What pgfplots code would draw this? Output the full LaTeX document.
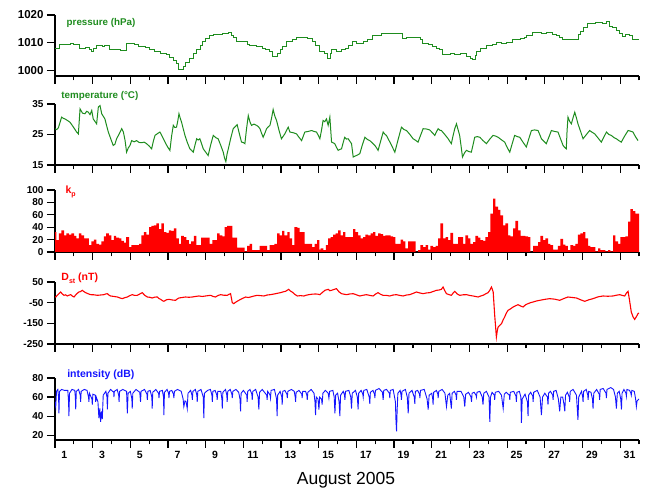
\documentclass[border=0pt]{standalone}
\usepackage{fontspec}
\setmainfont{Liberation Sans}
\usepackage{pgfplots}
\pgfplotsset{compat=1.18}
\definecolor{pgreen}{RGB}{30,140,30}
\definecolor{pred}{RGB}{255,0,0}
\definecolor{pblue}{RGB}{20,20,255}
\pgfplotsset{
 panel/.style={
  scale only axis, width=584pt,
  xmin=1, xmax=32,
  axis x line*=bottom, axis y line*=left,
  axis line style={-, line width=1.2pt, black},
  xtick={1,3,...,31}, minor xtick={2,4,...,32},
  xticklabels={},
  tick align=outside,
  major tick length=8pt, minor tick length=4.5pt,
  tick style={black, line width=1.2pt},
  y tick label style={font=\bfseries\fontsize{10}{10}\selectfont},
  /pgf/number format/assume math mode=true,
  /pgf/number format/1000 sep={},
  anchor=south west,
  clip mode=individual,
 }
}
\begin{document}
\begin{tikzpicture}[x=1pt,y=1pt]
\useasboundingbox (0,0) rectangle (646,492);

% ---------- pressure ----------
\begin{axis}[panel, at={(55pt,416pt)}, height=61pt,
  ymin=998, ymax=1020, ytick={1000,1010,1020},
  y tick label style={font=\bfseries\fontsize{11.5}{11.5}\selectfont}]
\addplot[const plot, pgreen, line width=1pt] coordinates {
(1.00,1008) (1.25,1009.5) (1.6,1009.3) (1.8,1009.6) (2.0,1009.2) (2.3,1008) (2.6,1008.3) (2.85,1007.5) (2.95,1006.8) (3.05,1008) (3.2,1009) (3.5,1008.6) (3.65,1009) (3.9,1007.4) (4.3,1007.6) (4.5,1007.2) (4.8,1009.8) (5.2,1009.5) (5.45,1008.6) (5.8,1008.2) (6.0,1007.5) (6.3,1007) (6.6,1006) (6.9,1005.6) (7.1,1004.8) (7.3,1003.5) (7.45,1002.5) (7.55,1000.5) (7.65,1000.2) (7.8,1001.4) (7.95,1003) (8.15,1004.4) (8.35,1006) (8.5,1007.4) (8.7,1009) (8.85,1010.4) (9.0,1011.4) (9.2,1012.7) (9.4,1013) (9.9,1013.3) (10.2,1013.7) (10.35,1012.6) (10.5,1012) (10.65,1010.4) (11.2,1009.5) (11.35,1009) (11.7,1008.5) (12.0,1008) (12.2,1007.4) (12.4,1006.8) (12.55,1005) (12.8,1006) (12.95,1007.4) (13.1,1008.5) (13.3,1010.4) (13.6,1011) (13.84,1011.8) (14.1,1012) (14.42,1011.5) (14.65,1010.4) (14.85,1009) (15.05,1007) (15.3,1006) (15.45,1004.4) (15.6,1006) (15.7,1007.6) (15.95,1007) (16.2,1007.6) (16.4,1008) (16.6,1009) (16.8,1010.4) (17.0,1009.8) (17.35,1010.4) (17.6,1011) (17.87,1012.5) (18.1,1012.7) (18.35,1013.3) (18.7,1013.5) (19.0,1013.2) (19.3,1013.3) (19.45,1011.5) (19.65,1012) (20.4,1011) (20.52,1009.8) (20.8,1009.2) (21.05,1008.6) (21.25,1008) (21.42,1007.4) (21.58,1005.8) (22.0,1006) (22.2,1005.7) (22.5,1006) (22.86,1005.2) (23.05,1004.2) (23.15,1004) (23.3,1005.5) (23.4,1006.8) (23.6,1007.8) (23.9,1009) (24.2,1009.5) (24.45,1010) (24.7,1009.6) (24.98,1010) (25.3,1011) (25.7,1011.5) (25.9,1012) (26.04,1012.7) (26.36,1013.6) (26.8,1013.3) (27.1,1013.6) (27.42,1013) (27.63,1012.7) (27.8,1011.8) (27.95,1011) (28.3,1011.2) (28.7,1011) (28.8,1012.8) (28.9,1014) (29.05,1015.5) (29.28,1017.1) (29.7,1017.2) (30.07,1016.8) (30.28,1017.5) (30.44,1016) (30.6,1015.5) (30.81,1014.5) (30.95,1013.4) (31.13,1012.1) (31.3,1012.9) (31.5,1012.5) (31.66,1011.2) (32.0,1011.2)
};
\node[anchor=west, text=pgreen, font=\bfseries\fontsize{9.8}{12}\selectfont] at (rel axis cs:0.014,0.87) {pressure (hPa)};
\end{axis}

% ---------- temperature ----------
\begin{axis}[panel, at={(55pt,327pt)}, height=61pt,
  ymin=15, ymax=35, ytick={15,25,35}]
\addplot[pgreen, line width=1pt] coordinates {
(1.00,26.9) (1.09,26.6) (1.18,27.2) (1.27,29.0) (1.35,30.7) (1.44,30.3) (1.53,30.1) (1.66,29.6) (1.80,29.0) (1.98,27.4) (2.15,25.8) (2.24,25.2) (2.33,33.4) (2.46,32.0) (2.59,31.8) (2.68,32.6) (2.77,32.3) (2.86,31.5) (2.95,32.9) (3.03,30.1) (3.12,29.3) (3.21,28.5) (3.30,34.0) (3.39,34.5) (3.48,31.8) (3.56,31.0) (3.65,30.1) (3.74,27.9) (3.83,25.8) (3.96,23.6) (4.09,21.4) (4.18,21.8) (4.27,23.6) (4.40,25.1) (4.54,26.9) (4.63,25.8) (4.72,23.0) (4.80,19.2) (4.89,20.6) (4.98,21.4) (5.07,23.0) (5.20,22.6) (5.33,23.0) (5.46,22.4) (5.60,22.3) (5.73,22.5) (5.86,22.0) (6.00,21.2) (6.13,20.3) (6.22,22.8) (6.31,24.7) (6.44,25.3) (6.57,25.8) (6.70,24.3) (6.84,22.5) (6.97,21.0) (7.10,19.8) (7.19,24.5) (7.28,28.0) (7.36,27.3) (7.45,27.4) (7.52,29.5) (7.58,31.8) (7.65,30.3) (7.72,29.0) (7.81,26.8) (7.90,24.7) (8.03,22.3) (8.16,20.3) (8.25,19.8) (8.34,19.2) (8.43,21.5) (8.52,23.6) (8.60,23.2) (8.69,23.6) (8.78,22.0) (8.87,20.3) (9.00,19.2) (9.13,18.1) (9.26,21.5) (9.40,24.7) (9.53,24.0) (9.66,23.6) (9.80,21.4) (9.93,19.2) (10.00,17.3) (10.07,16.1) (10.13,18.5) (10.20,20.3) (10.33,23.8) (10.46,26.9) (10.57,27.6) (10.67,28.2) (10.78,25.4) (10.90,22.5) (10.99,22.4) (11.08,22.0) (11.17,27.0) (11.26,31.2) (11.35,29.1) (11.43,28.0) (11.56,28.4) (11.70,28.0) (11.79,27.6) (11.88,26.9) (11.96,25.5) (12.05,24.1) (12.14,25.4) (12.23,26.9) (12.32,27.5) (12.41,28.0) (12.50,30.5) (12.58,33.2) (12.67,31.0) (12.76,29.6) (12.89,26.4) (13.02,23.6) (13.11,24.4) (13.20,25.2) (13.29,26.3) (13.38,27.4) (13.47,25.8) (13.64,25.6) (13.82,25.2) (13.95,24.1) (14.09,23.0) (14.17,24.3) (14.26,25.8) (14.44,26.0) (14.62,26.3) (14.75,26.0) (14.88,25.8) (14.97,24.8) (15.06,23.6) (15.15,26.5) (15.23,29.6) (15.32,29.2) (15.41,30.1) (15.50,28.0) (15.59,30.7) (15.68,22.5) (15.76,22.3) (15.85,22.0) (15.94,20.8) (16.03,19.8) (16.12,20.1) (16.21,20.3) (16.30,22.4) (16.38,24.1) (16.47,23.5) (16.56,23.6) (16.65,22.8) (16.74,22.0) (16.83,17.6) (16.92,17.9) (17.00,18.1) (17.09,18.4) (17.18,18.7) (17.31,21.5) (17.45,24.1) (17.58,23.4) (17.71,23.0) (17.85,22.2) (17.98,21.4) (18.07,20.6) (18.15,19.8) (18.29,22.9) (18.42,25.8) (18.51,25.1) (18.59,24.7) (18.82,22.0) (19.04,19.2) (19.22,23.5) (19.39,27.4) (19.53,26.6) (19.66,26.3) (19.84,25.0) (20.01,23.6) (20.14,23.1) (20.27,22.5) (20.41,24.8) (20.54,26.9) (20.72,26.8) (20.89,26.5) (21.03,25.6) (21.16,24.7) (21.25,25.9) (21.34,26.9) (21.43,26.4) (21.51,26.3) (21.69,25.0) (21.87,23.6) (21.95,22.8) (22.04,22.0) (22.13,24.6) (22.22,26.9) (22.31,28.5) (22.40,26.5) (22.48,24.7) (22.56,21.0) (22.63,17.6) (22.74,19.0) (22.84,19.8) (22.97,19.4) (23.10,19.2) (23.19,21.6) (23.28,24.1) (23.41,24.3) (23.55,24.1) (23.72,23.0) (23.90,22.0) (24.07,23.4) (24.25,24.7) (24.38,24.5) (24.52,24.1) (24.69,23.3) (24.87,22.5) (25.00,20.8) (25.14,19.2) (25.27,22.0) (25.40,24.7) (25.54,24.3) (25.67,24.1) (25.85,22.4) (26.02,20.9) (26.15,23.6) (26.29,26.3) (26.46,26.5) (26.64,26.3) (26.73,25.0) (26.82,23.6) (26.95,22.8) (27.08,22.0) (27.22,24.2) (27.35,26.3) (27.52,26.0) (27.70,25.8) (27.84,23.5) (27.97,21.4) (28.05,20.8) (28.14,20.3) (28.18,26.0) (28.23,30.7) (28.32,29.3) (28.41,28.5) (28.50,30.5) (28.59,32.3) (28.68,30.4) (28.76,28.5) (28.90,26.0) (29.03,23.6) (29.21,25.0) (29.38,26.3) (29.52,25.7) (29.65,25.2) (29.82,23.9) (30.00,22.5) (30.14,24.2) (30.27,25.8) (30.40,25.0) (30.53,24.7) (30.67,24.0) (30.80,23.6) (30.93,23.0) (31.06,22.5) (31.24,24.5) (31.42,26.3) (31.55,26.1) (31.68,25.8) (31.81,24.3) (31.95,23.0)
};
\node[anchor=west, text=pgreen, font=\bfseries\fontsize{9.8}{12}\selectfont] at (rel axis cs:0.005,1.13) {temperature (°C)};
\end{axis}

% ---------- kp ----------
\begin{axis}[panel, at={(55pt,240pt)}, height=62pt,
  ymin=0, ymax=100, ytick={0,20,40,60,80,100}]
\addplot[const plot, fill=pred, draw=none] coordinates {
(1.00,32) (1.07,19) (1.21,30) (1.34,35) (1.48,27) (1.60,30) (1.74,28) (1.87,30) (2.01,26) (2.13,22) (2.27,30) (2.40,27) (2.54,22) (2.66,22) (2.80,11) (2.93,17) (3.07,20) (3.19,13) (3.33,12) (3.46,17) (3.60,25) (3.72,30) (3.86,27) (3.99,19) (4.13,26) (4.25,23) (4.40,22) (4.52,18) (4.66,15) (4.78,24) (4.93,8) (5.05,11) (5.46,13) (5.58,27) (5.72,32) (5.85,28) (5.99,40) (6.11,42) (6.25,43) (6.38,46) (6.52,37) (6.64,46) (6.78,32) (6.91,31) (7.05,35) (7.17,34) (7.31,38) (7.44,22) (7.58,13) (7.70,26) (7.84,24) (7.97,19) (8.11,13) (8.23,17) (8.37,26) (8.50,11) (8.76,23) (9.21,13) (9.35,19) (9.61,30) (9.74,27) (9.88,25) (10.00,40) (10.14,42) (10.41,23) (10.67,7) (11.06,1) (11.20,10) (11.33,13) (11.47,3) (11.86,10) (12.26,3) (12.39,11) (12.65,13) (12.79,30) (12.92,27) (13.06,34) (13.18,27) (13.33,32) (13.45,22) (13.59,11) (13.71,40) (13.86,39) (13.98,32) (14.25,13) (14.65,8) (14.78,13) (14.92,19) (15.04,4) (15.10,6) (15.24,3) (15.38,11) (15.50,22) (15.63,24) (15.77,28) (15.89,30) (16.03,35) (16.16,27) (16.30,32) (16.42,24) (16.83,37) (16.95,32) (17.09,27) (17.22,22) (17.36,24) (17.48,28) (17.62,27) (17.75,30) (17.89,32) (18.01,26) (18.15,30) (18.28,29) (18.42,26) (18.54,27) (18.81,25) (18.95,24) (19.07,13) (19.34,20) (19.48,17) (19.60,6) (19.75,17) (20.14,0) (20.28,3) (20.40,11) (20.54,8) (20.67,11) (20.81,4) (20.93,10) (21.07,8) (21.20,10) (21.34,22) (21.46,46) (21.60,22) (21.73,24) (21.87,19) (21.99,31) (22.13,13) (22.40,24) (22.66,13) (22.79,27) (22.93,22) (23.05,13) (23.19,16) (23.32,26) (23.46,23) (23.58,19) (23.72,18) (23.85,24) (23.99,32) (24.11,62) (24.26,86) (24.38,73) (24.52,68) (24.64,59) (24.79,43) (24.91,46) (25.05,27) (25.17,25) (25.32,38) (25.44,50) (25.58,35) (25.71,26) (25.97,25) (26.11,24) (26.24,0) (26.38,10) (26.64,16) (26.77,26) (26.91,19) (27.03,22) (27.17,13) (27.30,11) (27.44,4) (27.70,10) (27.83,21) (27.97,12) (28.09,10) (28.23,3) (28.36,11) (28.50,10) (28.62,13) (28.76,28) (28.89,30) (29.03,32) (29.15,22) (29.30,10) (29.42,8) (29.68,1) (29.83,6) (29.95,3) (30.22,1) (30.36,3) (30.48,1) (30.62,27) (30.74,17) (30.89,13) (31.01,24) (31.28,25) (31.42,49) (31.54,69) (31.68,66) (31.81,62) (32.00,62)
} \closedcycle;
\node[anchor=west, text=pred, font=\bfseries\fontsize{10.5}{12}\selectfont] at (rel axis cs:0.012,0.97) {k\raisebox{-0.55ex}{\fontsize{7}{8}\selectfont p}};
\end{axis}

% ---------- Dst ----------
\begin{axis}[panel, at={(55pt,148pt)}, height=62pt,
  ymin=-250, ymax=50, ytick={-250,-150,-50,50}, yticklabels={-250,-150,-50,50}]
\addplot[pred, line width=1.1pt] coordinates {
(1.00,-22) (1.04,-22.6) (1.12,-15) (1.21,-6.5) (1.30,1.6) (1.39,-8) (1.48,-14.5) (1.56,-12) (1.65,-17.7) (1.74,-14) (1.83,-11.3) (1.92,-18) (2.01,-22.6) (2.14,-8) (2.27,1.6) (2.36,4) (2.45,9.7) (2.54,3) (2.63,-1.6) (2.76,-7) (2.89,-11.3) (3.07,-12) (3.25,-14.5) (3.42,-13) (3.60,-11.3) (3.69,-8) (3.78,-6.5) (3.87,-14) (3.95,-17.7) (4.13,-20) (4.31,-22.6) (4.44,-27) (4.57,-30.6) (4.70,-26) (4.84,-22.6) (4.97,-16) (5.10,-11.3) (5.23,-15) (5.37,-14.5) (5.50,-8) (5.63,-1.6) (5.76,-14) (5.90,-22.6) (6.03,-24) (6.16,-27.4) (6.30,-23) (6.43,-22.6) (6.52,-30) (6.61,-33.9) (6.70,-40) (6.78,-43.5) (6.92,-36) (7.05,-33.9) (7.22,-37) (7.40,-38.7) (7.49,-32) (7.58,-27.4) (7.75,-25) (7.93,-22.6) (8.11,-24) (8.29,-22.6) (8.46,-20) (8.64,-17.7) (8.82,-20) (8.99,-17.7) (9.12,-16) (9.26,-14.5) (9.39,-20) (9.52,-22.6) (9.66,-15) (9.79,-11.3) (9.96,-14) (10.14,-14.5) (10.23,-10) (10.32,-6.5) (10.41,-50) (10.49,-54.8) (10.62,-46) (10.76,-38.7) (10.94,-30) (11.12,-22.6) (11.25,-25) (11.38,-22.6) (11.56,-18) (11.73,-14.5) (11.91,-16) (12.09,-17.7) (12.26,-13) (12.44,-11.3) (12.58,-9) (12.71,-6.5) (12.84,-4) (12.97,-1.6) (13.10,2) (13.24,4.8) (13.32,10) (13.41,14.5) (13.50,6) (13.59,1.6) (13.72,-9) (13.86,-17.7) (14.03,-16) (14.21,-17.7) (14.34,-14) (14.47,-11.3) (14.65,-9) (14.83,-8) (14.95,-9) (15.06,-11.3) (15.20,0) (15.33,9.7) (15.41,12) (15.50,14.5) (15.59,8) (15.68,9.7) (15.81,14) (15.94,17.7) (16.08,2) (16.21,-6.5) (16.34,-9) (16.47,-11.3) (16.65,-8) (16.83,-6.5) (17.00,-12) (17.18,-17.7) (17.36,-14) (17.54,-11.3) (17.71,-15) (17.89,-17.7) (18.02,-8) (18.15,-1.6) (18.29,-10) (18.42,-14.5) (18.60,-15) (18.77,-17.7) (18.95,-13) (19.13,-11.3) (19.30,-15) (19.48,-17.7) (19.66,-13) (19.83,-11.3) (20.01,-5) (20.19,1.6) (20.36,-3) (20.54,-6.5) (20.72,-3) (20.90,-1.6) (21.07,4) (21.25,9.7) (21.38,11) (21.51,14.5) (21.60,25.8) (21.69,8) (21.78,-6.5) (21.91,-11) (22.04,-14.5) (22.13,-4) (22.22,4.8) (22.35,-8) (22.49,-14.5) (22.66,-12) (22.84,-11.3) (23.01,-15) (23.19,-17.7) (23.32,-20) (23.46,-22.6) (23.59,-18) (23.72,-14.5) (23.85,-8) (23.99,-1.6) (24.08,10) (24.17,25.8) (24.26,1.6) (24.34,-111) (24.43,-216) (24.47,-190) (24.52,-168) (24.61,-160) (24.70,-152) (24.78,-135) (24.87,-119) (24.96,-100) (25.05,-87) (25.18,-80) (25.32,-71) (25.45,-65) (25.58,-59.7) (25.71,-66) (25.85,-71) (25.98,-60) (26.11,-54.8) (26.24,-50) (26.38,-46.8) (26.55,-42) (26.73,-38.7) (27.00,-34) (27.26,-30.6) (27.52,-33) (27.79,-38.7) (28.01,-30) (28.23,-22.6) (28.46,-25) (28.68,-27.4) (28.90,-36) (29.12,-43.5) (29.34,-36) (29.56,-30.6) (29.82,-22) (30.09,-17.7) (30.35,-19) (30.62,-17.7) (30.80,-14) (30.98,-11.3) (31.11,-15) (31.24,-17.7) (31.33,-4) (31.42,4.8) (31.50,-40) (31.59,-95) (31.68,-118) (31.77,-131) (31.86,-118) (31.95,-103) (32.00,-100)
};
\node[anchor=west, text=pred, font=\bfseries\fontsize{10.5}{12}\selectfont] at (rel axis cs:0.005,1.06) {D\raisebox{-0.55ex}{\fontsize{7}{8}\selectfont st} (nT)};
\end{axis}

% ---------- intensity ----------
\begin{axis}[panel, at={(55pt,52pt)}, height=62pt,
  ymin=15, ymax=80, ytick={20,40,60,80},
  extra x ticks={1.5,3.5,5.5,7.5,9.5,11.5,13.5,15.5,17.5,19.5,21.5,23.5,25.5,27.5,29.5,31.5},
  extra x tick labels={1,3,5,7,9,11,13,15,17,19,21,23,25,27,29,31},
  extra x tick style={major tick length=0pt, tick label style={font=\bfseries\fontsize{10.5}{10.5}\selectfont, yshift=-8pt}}]
\addplot[pblue, line width=0.9pt] coordinates {
(1.00,55) (1.04,50) (1.08,66) (1.15,68) (1.19,60) (1.21,43) (1.24,66) (1.35,68) (1.5,67) (1.68,67) (1.72,55) (1.74,40) (1.77,64) (1.9,68) (2.05,67) (2.08,60) (2.10,47) (2.13,66) (2.25,68) (2.34,62) (2.36,55) (2.39,66) (2.55,68) (2.7,67) (2.78,60) (2.80,55) (2.83,64) (2.96,58) (2.98,52) (3.01,63) (3.14,62) (3.16,55) (3.19,60) (3.28,55) (3.33,38) (3.38,48) (3.42,34) (3.47,45) (3.51,37) (3.56,62) (3.7,66) (3.76,60) (3.78,47) (3.81,64) (3.95,68) (4.12,65) (4.13,60) (4.15,66) (4.3,68) (4.38,62) (4.40,55) (4.43,66) (4.6,68) (4.8,66) (4.84,43) (4.88,64) (5.0,66) (5.08,58) (5.10,48) (5.13,64) (5.3,68) (5.5,65) (5.54,55) (5.57,66) (5.75,68) (5.88,63) (5.90,57) (5.93,66) (6.05,67) (6.14,60) (6.16,48) (6.19,65) (6.35,68) (6.5,64) (6.52,59) (6.55,66) (6.7,67) (6.76,60) (6.78,41) (6.81,65) (6.95,68) (7.03,64) (7.05,59) (7.08,66) (7.2,67) (7.29,63) (7.31,59) (7.34,66) (7.5,68) (7.7,66) (7.8,58) (7.84,50) (7.9,56) (7.96,55) (8.02,48) (8.06,64) (8.2,67) (8.27,62) (8.29,57) (8.32,66) (8.45,68) (8.53,62) (8.55,55) (8.58,66) (8.75,68) (8.87,60) (8.90,38) (8.93,64) (9.1,67) (9.25,68) (9.33,62) (9.35,55) (9.38,66) (9.5,67) (9.59,62) (9.61,57) (9.64,66) (9.8,66) (9.86,58) (9.88,48) (9.91,65) (10.05,68) (10.12,62) (10.14,55) (10.17,66) (10.3,68) (10.39,63) (10.41,59) (10.44,66) (10.6,68) (10.75,65) (10.82,58) (10.85,45) (10.88,64) (11.0,67) (11.18,62) (11.20,55) (11.23,66) (11.35,68) (11.45,63) (11.47,57) (11.5,66) (11.65,68) (11.78,60) (11.82,47) (11.86,65) (12.0,68) (12.24,62) (12.26,57) (12.29,66) (12.42,62) (12.44,59) (12.47,67) (12.65,68) (12.76,58) (12.79,40) (12.82,62) (12.95,66) (13.04,60) (13.06,52) (13.09,66) (13.2,67) (13.31,63) (13.33,59) (13.36,66) (13.55,68) (13.7,66) (13.75,60) (13.77,55) (13.8,65) (13.95,67) (14.1,63) (14.12,59) (14.15,66) (14.3,66) (14.37,62) (14.39,57) (14.42,65) (14.6,68) (14.75,64) (14.8,55) (14.83,41) (14.87,60) (14.96,58) (15.01,47) (15.05,60) (15.15,58) (15.18,52) (15.22,64) (15.35,67) (15.5,64) (15.54,59) (15.58,66) (15.75,67) (15.82,60) (15.86,43) (15.9,62) (16.0,64) (16.08,55) (16.12,40) (16.16,62) (16.3,66) (16.37,62) (16.39,57) (16.42,66) (16.6,67) (16.7,60) (16.74,48) (16.78,64) (16.95,67) (17.05,60) (17.09,47) (17.12,64) (17.25,67) (17.34,63) (17.36,60) (17.39,67) (17.55,68) (17.68,60) (17.71,53) (17.74,65) (17.88,67) (17.96,63) (17.98,59) (18.01,67) (18.2,69) (18.38,65) (18.42,57) (18.45,67) (18.6,68) (18.75,64) (18.77,59) (18.8,67) (18.95,68) (19.07,55) (19.10,35) (19.13,24) (19.16,45) (19.2,64) (19.32,67) (19.37,62) (19.39,57) (19.42,66) (19.6,68) (19.7,60) (19.75,43) (19.79,64) (19.95,67) (20.07,60) (20.10,53) (20.13,66) (20.25,67) (20.35,63) (20.37,59) (20.4,67) (20.6,68) (20.75,58) (20.81,47) (20.86,62) (21.0,64) (21.05,58) (21.07,52) (21.1,65) (21.25,67) (21.32,63) (21.34,59) (21.37,66) (21.55,68) (21.7,64) (21.78,50) (21.85,62) (21.95,64) (22.04,48) (22.08,64) (22.2,66) (22.29,62) (22.31,57) (22.34,66) (22.55,66) (22.7,60) (22.75,50) (22.8,63) (22.95,65) (23.08,60) (23.11,55) (23.14,64) (23.25,65) (23.35,62) (23.37,60) (23.4,65) (23.55,66) (23.68,60) (23.72,52) (23.76,64) (23.9,66) (24.04,60) (24.08,34) (24.12,60) (24.2,65) (24.32,62) (24.34,57) (24.37,65) (24.55,66) (24.7,62) (24.79,48) (24.85,63) (24.95,65) (25.12,62) (25.14,57) (25.17,65) (25.35,66) (25.47,61) (25.49,55) (25.52,65) (25.65,66) (25.73,60) (25.76,33) (25.8,58) (25.95,63) (26.08,55) (26.11,40) (26.14,62) (26.25,65) (26.36,61) (26.38,55) (26.41,65) (26.6,67) (26.75,60) (26.82,41) (26.88,60) (27.0,64) (27.14,60) (27.17,52) (27.2,64) (27.3,66) (27.42,62) (27.44,57) (27.47,66) (27.6,67) (27.72,58) (27.79,45) (27.85,60) (27.95,60) (28.02,52) (28.06,45) (28.1,62) (28.2,65) (28.3,60) (28.32,55) (28.35,66) (28.5,68) (28.68,62) (28.76,36) (28.8,60) (28.95,66) (29.01,60) (29.03,55) (29.06,66) (29.2,68) (29.28,62) (29.30,57) (29.33,66) (29.45,65) (29.53,58) (29.56,48) (29.6,64) (29.75,68) (29.89,63) (29.91,57) (29.94,68) (30.1,69) (30.25,64) (30.27,59) (30.3,68) (30.5,70) (30.65,68) (30.75,60) (30.8,48) (30.85,64) (30.95,66) (31.03,58) (31.07,47) (31.1,64) (31.2,68) (31.31,64) (31.33,61) (31.36,68) (31.5,67) (31.57,64) (31.59,62) (31.62,67) (31.75,66) (31.82,58) (31.86,50) (31.9,56) (32.0,58)
};
\node[anchor=west, text=pblue, font=\bfseries\fontsize{10.5}{12}\selectfont] at (rel axis cs:0.015,1.05) {intensity (dB)};
\end{axis}

\node[font=\fontsize{17.5}{17.5}\selectfont] at (346pt,12pt) {August 2005};
\end{tikzpicture}
\end{document}
